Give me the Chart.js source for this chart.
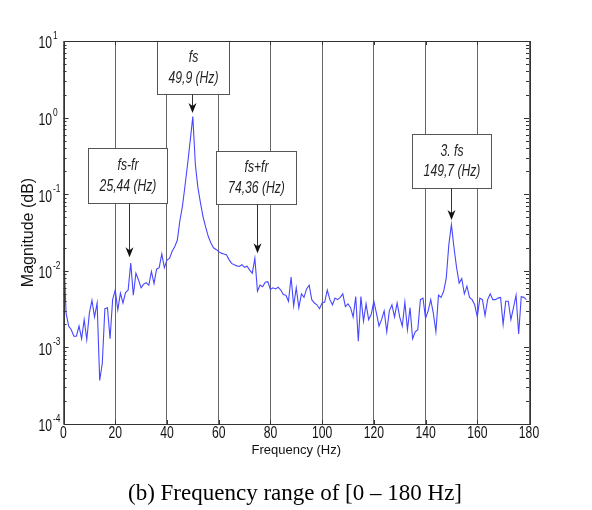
<!DOCTYPE html>
<html>
<head>
<meta charset="utf-8">
<script src="https://cdn.jsdelivr.net/npm/chart.js@4.4.1/dist/chart.umd.min.js"></script>
<style>
  html, body { margin: 0; padding: 0; background: #fff; }
</style>
</head>
<body>
<canvas id="spectrumChart" width="592" height="510"></canvas>
<script>
// spectrum, 1 Hz steps
const freq = [
  0, 1, 2, 3, 4, 5, 6, 7, 8, 9, 10, 11, 12, 13, 14, 15, 16, 17, 18, 19,
  20, 21, 22, 23, 24, 25, 26, 27, 28, 29, 30, 31, 32, 33, 34, 35, 36, 37, 38, 39,
  40, 41, 42, 43, 44, 45, 46, 47, 48, 49, 50, 51, 52, 53, 54, 55, 56, 57, 58, 59,
  60, 61, 62, 63, 64, 65, 66, 67, 68, 69, 70, 71, 72, 73, 74, 75, 76, 77, 78, 79,
  80, 81, 82, 83, 84, 85, 86, 87, 88, 89, 90, 91, 92, 93, 94, 95, 96, 97, 98, 99,
  100, 101, 102, 103, 104, 105, 106, 107, 108, 109, 110, 111, 112, 113, 114, 115, 116, 117, 118, 119,
  120, 121, 122, 123, 124, 125, 126, 127, 128, 129, 130, 131, 132, 133, 134, 135, 136, 137, 138, 139,
  140, 141, 142, 143, 144, 145, 146, 147, 148, 149, 150, 151, 152, 153, 154, 155, 156, 157, 158, 159,
  160, 161, 162, 163, 164, 165, 166, 167, 168, 169, 170, 171, 172, 173, 174, 175, 176, 177, 178, 179
];
const magnitude = [
  0.021, 0.0028, 0.0019, 0.0017, 0.0014, 0.0014, 0.0019, 0.0013, 0.0023, 0.00126,
  0.0028, 0.0041, 0.0025, 0.0038, 0.00037, 0.00062, 0.0032, 0.0033, 0.0013, 0.0042,
  0.0056, 0.0031, 0.0051, 0.0038, 0.0052, 0.0056, 0.0126, 0.0048, 0.0093, 0.0076,
  0.006, 0.0067, 0.007, 0.0065, 0.0098, 0.0068, 0.0105, 0.011, 0.0166, 0.011,
  0.0138, 0.0145, 0.018, 0.0206, 0.025, 0.045, 0.07, 0.13, 0.25, 0.5,
  1.03, 0.24, 0.12, 0.076, 0.05, 0.037, 0.028, 0.023, 0.02, 0.019,
  0.0178, 0.017, 0.0166, 0.0162, 0.014, 0.0125, 0.012, 0.0116, 0.0114, 0.012,
  0.0111, 0.0115, 0.0102, 0.0093, 0.0145, 0.0054, 0.0065, 0.0062, 0.0071, 0.0072,
  0.0057, 0.006, 0.0058, 0.0061, 0.0056, 0.0049, 0.0048, 0.004, 0.0083, 0.0035,
  0.006, 0.0033, 0.005, 0.0045, 0.0058, 0.0065, 0.0042, 0.0038, 0.0036, 0.0032,
  0.0038, 0.0039, 0.0056, 0.0042, 0.0036, 0.0044, 0.0042, 0.0045, 0.005, 0.0034,
  0.0037, 0.0033, 0.0025, 0.0046, 0.0012, 0.0046, 0.0022, 0.0037, 0.0023, 0.0027,
  0.004, 0.0028, 0.0019, 0.0023, 0.003, 0.0016, 0.003, 0.0036, 0.0025, 0.0038,
  0.0025, 0.0019, 0.0039, 0.0017, 0.0033, 0.0013, 0.0016, 0.0017, 0.0042, 0.0044,
  0.0024, 0.003, 0.0042, 0.0028, 0.0016, 0.0048, 0.0045, 0.0054, 0.008, 0.022,
  0.04, 0.02, 0.011, 0.0069, 0.0079, 0.005, 0.0063, 0.0045, 0.0042, 0.0036,
  0.0025, 0.0044, 0.0042, 0.0026, 0.0042, 0.005, 0.0042, 0.0042, 0.0044, 0.0045,
  0.002, 0.004, 0.004, 0.0023, 0.0033, 0.0048, 0.0015, 0.0046, 0.0045, 0.0042
];
const yTickValues = [1e-4, 1e-3, 1e-2, 1e-1, 1, 10];
const yTickExponents = ["-4", "-3", "-2", "-1", "0", "1"];
const noteTexts = [
  ["fs", "49,9 (Hz)"],
  ["fs-fr", "25,44 (Hz)"],
  ["fs+fr", "74,36 (Hz)"],
  ["3. fs", "149,7 (Hz)"]
];
const caption = "(b) Frequency range of [0 – 180 Hz]";

// where the callout boxes and arrows sit, in axis units
const noteBoxes = [
  { x0: 36.0, x1: 64.0, yTop: 10, yBot: 2.03, ax: 49.7, tip: 1.15 },
  { x0: 9.6, x1: 39.9, yTop: 0.40, yBot: 0.077, ax: 25.3, tip: 0.015 },
  { x0: 58.9, x1: 89.8, yTop: 0.37, yBot: 0.0745, ax: 74.7, tip: 0.017 },
  { x0: 134.6, x1: 165.3, yTop: 0.605, yBot: 0.12, ax: 149.7, tip: 0.046 }
];

const sans = '"Liberation Sans", Arial, sans-serif';
const squeeze = 0.76; // the figure's text is narrow

function narrowText(ctx, str, x, y, font, align) {
  ctx.save();
  ctx.translate(x, y);
  ctx.scale(squeeze, 1);
  ctx.font = font;
  ctx.textAlign = align;
  ctx.textBaseline = "middle";
  ctx.fillText(str, 0, 0);
  ctx.restore();
}

const points = freq.map((f, i) => ({ x: f, y: magnitude[i] }));

const framePlugin = {
  id: "frame",
  afterDatasetsDraw(chart) {
    const { ctx, chartArea: a, scales } = chart;
    const xs = scales.x, ys = scales.y;
    ctx.save();
    ctx.strokeStyle = "#333";
    ctx.lineWidth = 1;
    // minor + major ticks on the log axis, both sides, pointing in
    ctx.beginPath();
    for (let e = -4; e < 1; e++) {
      for (let m = 1; m < 10; m++) {
        const py = Math.round(ys.getPixelForValue(m * Math.pow(10, e))) + 0.5;
        const len = m === 1 ? 5 : 3;
        ctx.moveTo(a.left, py); ctx.lineTo(a.left + len, py);
        ctx.moveTo(a.right, py); ctx.lineTo(a.right - len, py);
      }
    }
    for (let v = 20; v < 180; v += 20) {
      const px = Math.round(xs.getPixelForValue(v)) + 0.5;
      ctx.moveTo(px, a.top); ctx.lineTo(px, a.top + 4);
      ctx.moveTo(px, a.bottom); ctx.lineTo(px, a.bottom - 4);
    }
    ctx.stroke();

    // callout boxes with arrows
    noteBoxes.forEach((n, i) => {
      const l = Math.round(xs.getPixelForValue(n.x0)) + 0.5;
      const r = Math.round(xs.getPixelForValue(n.x1)) + 0.5;
      const t = Math.round(ys.getPixelForValue(n.yTop)) + 0.5;
      const b = Math.round(ys.getPixelForValue(n.yBot)) + 0.5;
      const ax = Math.round(xs.getPixelForValue(n.ax)) + 0.5;
      const tipY = ys.getPixelForValue(n.tip);
      ctx.fillStyle = "#fff";
      ctx.fillRect(l, t, r - l, b - t);
      ctx.strokeStyle = "#555";
      ctx.strokeRect(l, t, r - l, b - t);
      ctx.strokeStyle = "#333";
      ctx.beginPath();
      ctx.moveTo(ax, b); ctx.lineTo(ax, tipY - 6);
      ctx.stroke();
      ctx.fillStyle = "#111";
      ctx.beginPath();
      ctx.moveTo(ax, tipY);
      ctx.lineTo(ax - 4, tipY - 10);
      ctx.lineTo(ax, tipY - 7);
      ctx.lineTo(ax + 4, tipY - 10);
      ctx.closePath();
      ctx.fill();
      ctx.fillStyle = "#222";
      const cx = (l + r) / 2;
      narrowText(ctx, noteTexts[i][0], cx, t + (b - t) * 0.31, "italic 16px " + sans, "center");
      narrowText(ctx, noteTexts[i][1], cx, t + (b - t) * 0.69, "italic 16px " + sans, "center");
    });

    ctx.strokeStyle = "#333";
    ctx.strokeRect(Math.round(a.left) + 0.5, Math.round(a.top) + 0.5,
      Math.round(a.right - a.left), Math.round(a.bottom - a.top));

    // tick labels, placed through the scales
    ctx.fillStyle = "#111";
    xs.ticks.forEach(tk => {
      narrowText(ctx, String(tk.value), xs.getPixelForValue(tk.value), a.bottom + 10, "16px " + sans, "center");
    });
    yTickValues.forEach((v, i) => {
      const py = ys.getPixelForValue(v);
      narrowText(ctx, "10", 52, py + 3, "16px " + sans, "right");
      narrowText(ctx, yTickExponents[i], 53, py - 5, "11px " + sans, "left");
    });

    // figure caption under the plot
    ctx.fillStyle = "#000";
    ctx.font = '23px "Liberation Serif", "Times New Roman", serif';
    ctx.textAlign = "center";
    ctx.textBaseline = "middle";
    ctx.fillText(caption, 295, 494);
    ctx.restore();
  }
};

new Chart(document.getElementById("spectrumChart"), {
  type: "line",
  data: {
    datasets: [{
      label: "Magnitude",
      data: points,
      borderColor: "#4747ff",
      borderWidth: 1.1,
      pointRadius: 0,
      fill: false,
      tension: 0
    }]
  },
  options: {
    responsive: false,
    animation: false,
    layout: { padding: { left: 19, top: 41, right: 63, bottom: 52 } },
    plugins: {
      legend: { display: false },
      tooltip: { enabled: false }
    },
    scales: {
      x: {
        type: "linear",
        min: 0,
        max: 180,
        afterFit: s => { s.height = 34; },
        ticks: { stepSize: 20, display: false },
        grid: { color: "#666", drawTicks: false, tickLength: 0 },
        border: { display: false },
        title: { display: true, text: "Frequency (Hz)", color: "#111", padding: { top: 0, bottom: 0 }, font: { family: sans, size: 13 } }
      },
      y: {
        type: "logarithmic",
        min: 1e-4,
        max: 10,
        afterFit: s => { s.width = 44.5; },
        afterBuildTicks: s => { s.ticks = yTickValues.map(v => ({ value: v })); },
        ticks: { display: false },
        grid: { display: false },
        border: { display: false },
        title: { display: true, text: "Magnitude (dB)", color: "#111", padding: 0, font: { family: sans, size: 16 } }
      }
    }
  },
  plugins: [framePlugin]
});
</script>
</body>
</html>
